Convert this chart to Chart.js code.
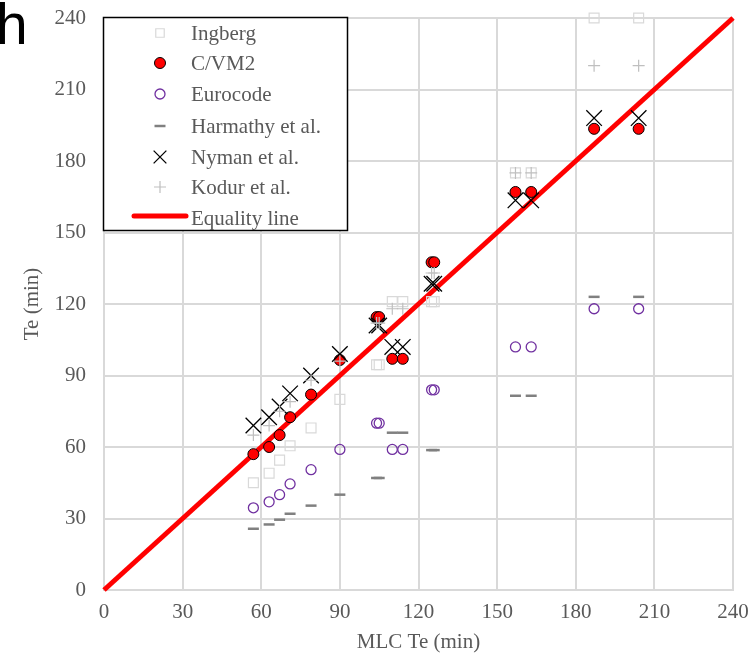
<!DOCTYPE html>
<html>
<head>
<meta charset="utf-8">
<script src="https://cdn.jsdelivr.net/npm/chart.js@4.4.1/dist/chart.umd.min.js"></script>
<style>
  html, body { margin: 0; padding: 0; background: #fff; }
  canvas { display: block; }
</style>
</head>
<body>
<canvas id="chart" width="751" height="653"></canvas>
<script>
// MLC Te (min) for each specimen
const mlc = [57, 63, 67, 71, 79, 90, 104, 105, 110, 114, 125, 126, 157, 163, 187, 204];

// predicted Te (min) per method
const ingberg  = [45, 49, 54.5, 60.5, 68, 80, 94.5, 94.5, 121, 121, 121, 121, 175, 175, 240, 240];
const cvm2     = [57, 60, 65, 72.5, 82, 96.5, 114.5, 114.5, 97, 97, 137.5, 137.5, 167, 167, 193.5, 193.5];
const eurocode = [34.5, 37, 40, 44.5, 50.5, 59, 70, 70, 59, 59, 84, 84, 102, 102, 118, 118];
const harmathy = [25.7, 27.5, 29.5, 32, 35.4, 40, 47, 47, 66, 66, 58.7, 58.7, 81.5, 81.5, 123, 123];
const nyman    = [69, 72.5, 77, 82.5, 90, 99, 111, 111, 102, 102, 128.5, 128.5, 163.5, 163.5, 198, 198];
const kodur    = [65, 69, 75, 79, 88, 96, 112, 112, 118, 118, 133, 133, 175, 175, 220, 220];

const eqX = [0, 240];
const eqY = [0, 240];

const axisTicks = [0, 30, 60, 90, 120, 150, 180, 210, 240];

const serif = "'Liberation Serif', 'Times New Roman', serif";
const textGrey = "#595959";
const gridGrey = "#d9d9d9";

function pts(xs, ys) {
    return xs.map((x, i) => ({ x: x, y: ys[i] }));
}

const series = [
    { label: "Ingberg", data: pts(mlc, ingberg), pointStyle: "rect", pointRadius: 7,
      borderColor: "#d9d9d9", backgroundColor: "rgba(0,0,0,0)", borderWidth: 1.2, order: 6 },
    { label: "C/VM2", data: pts(mlc, cvm2), pointStyle: "circle", pointRadius: 5.5,
      borderColor: "#000000", backgroundColor: "#ff0000", borderWidth: 1, order: 5 },
    { label: "Eurocode", data: pts(mlc, eurocode), pointStyle: "circle", pointRadius: 5,
      borderColor: "#7030a0", backgroundColor: "rgba(0,0,0,0)", borderWidth: 1.3, order: 4 },
    { label: "Harmathy et al.", data: pts(mlc, harmathy), pointStyle: "line", pointRadius: 5.5,
      borderColor: "#808080", backgroundColor: "#808080", borderWidth: 2.5, order: 3 },
    { label: "Nyman et al.", data: pts(mlc, nyman), pointStyle: "crossRot", pointRadius: 11,
      borderColor: "#000000", backgroundColor: "#000000", borderWidth: 1.3, order: 2 },
    { label: "Kodur et al.", data: pts(mlc, kodur), pointStyle: "cross", pointRadius: 6,
      borderColor: "#bfbfbf", backgroundColor: "#bfbfbf", borderWidth: 1.2, order: 1 }
];

const datasets = series.map(s => Object.assign({
    type: "scatter",
    pointBorderWidth: s.borderWidth,
    pointHoverRadius: s.pointRadius,
    clip: false
}, s));

datasets.push({
    type: "line",
    label: "Equality line",
    data: pts(eqX, eqY),
    borderColor: "#ff0000",
    borderWidth: 5,
    pointRadius: 0,
    fill: false,
    clip: false,
    order: 10
});

// legend box drawn over the plot, plus the panel letter
const overlay = {
    id: "overlay",
    afterDraw(chart) {
        const ctx = chart.ctx;
        ctx.save();

        ctx.fillStyle = "#000";
        ctx.font = "57px 'Liberation Sans', Arial, sans-serif";
        ctx.textBaseline = "alphabetic";
        ctx.textAlign = "left";
        ctx.fillText("h", -4, 44);

        const bx = 103.5, by = 17.5, bw = 244, bh = 213;
        ctx.fillStyle = "#fff";
        ctx.fillRect(bx, by, bw, bh);
        ctx.strokeStyle = "#000";
        ctx.lineWidth = 1.5;
        ctx.strokeRect(bx, by, bw, bh);

        const rowY = [33, 63, 94, 126, 157, 187, 218];
        ctx.font = "21px " + serif;
        ctx.textBaseline = "middle";
        series.forEach((s, i) => {
            ctx.strokeStyle = s.borderColor;
            ctx.fillStyle = s.backgroundColor;
            ctx.lineWidth = s.borderWidth;
            let r = s.pointRadius;
            if (s.pointStyle === "crossRot") r = 9;
            if (s.pointStyle === "rect") r = 6;
            Chart.helpers.drawPoint(ctx, { pointStyle: s.pointStyle, radius: r, rotation: 0, borderWidth: s.borderWidth }, 160, rowY[i]);
            ctx.fillStyle = textGrey;
            ctx.fillText(s.label, 191, rowY[i] + 1);
        });

        ctx.strokeStyle = "#ff0000";
        ctx.lineWidth = 5;
        ctx.lineCap = "round";
        ctx.beginPath();
        ctx.moveTo(134, 216);
        ctx.lineTo(186, 216);
        ctx.stroke();
        ctx.fillStyle = textGrey;
        ctx.fillText("Equality line", 191, 219);

        ctx.restore();
    }
};

function axis(title, isX) {
    return {
        type: "linear",
        min: 0,
        max: 240,
        afterBuildTicks: scale => { scale.ticks = axisTicks.map(v => ({ value: v })); },
        afterFit: scale => {
            if (isX) scale.height = 63; else scale.width = 104;
            scale.paddingTop = 0;
            scale.paddingBottom = 0;
            scale.paddingLeft = 0;
            scale.paddingRight = 0;
        },
        ticks: {
            color: textGrey,
            font: { family: serif, size: 21 },
            padding: isX ? 10 : 18
        },
        grid: { color: gridGrey, lineWidth: 2, drawTicks: false },
        border: { display: true, color: gridGrey, width: 2 },
        title: {
            display: true,
            text: title,
            color: textGrey,
            font: { family: serif, size: 21, lineHeight: 1 },
            padding: isX ? { top: 0, bottom: 0 } : { top: 21.5, bottom: 0 }
        }
    };
}

new Chart(document.getElementById("chart"), {
    type: "scatter",
    data: { datasets: datasets },
    options: {
        responsive: false,
        animation: false,
        layout: { autoPadding: false, padding: { left: 0, top: 18, right: 18, bottom: 0 } },
        plugins: {
            legend: { display: false },
            tooltip: { enabled: false }
        },
        scales: {
            x: axis("MLC Te (min)", true),
            y: axis("Te (min)", false)
        }
    },
    plugins: [overlay]
});
</script>
</body>
</html>
